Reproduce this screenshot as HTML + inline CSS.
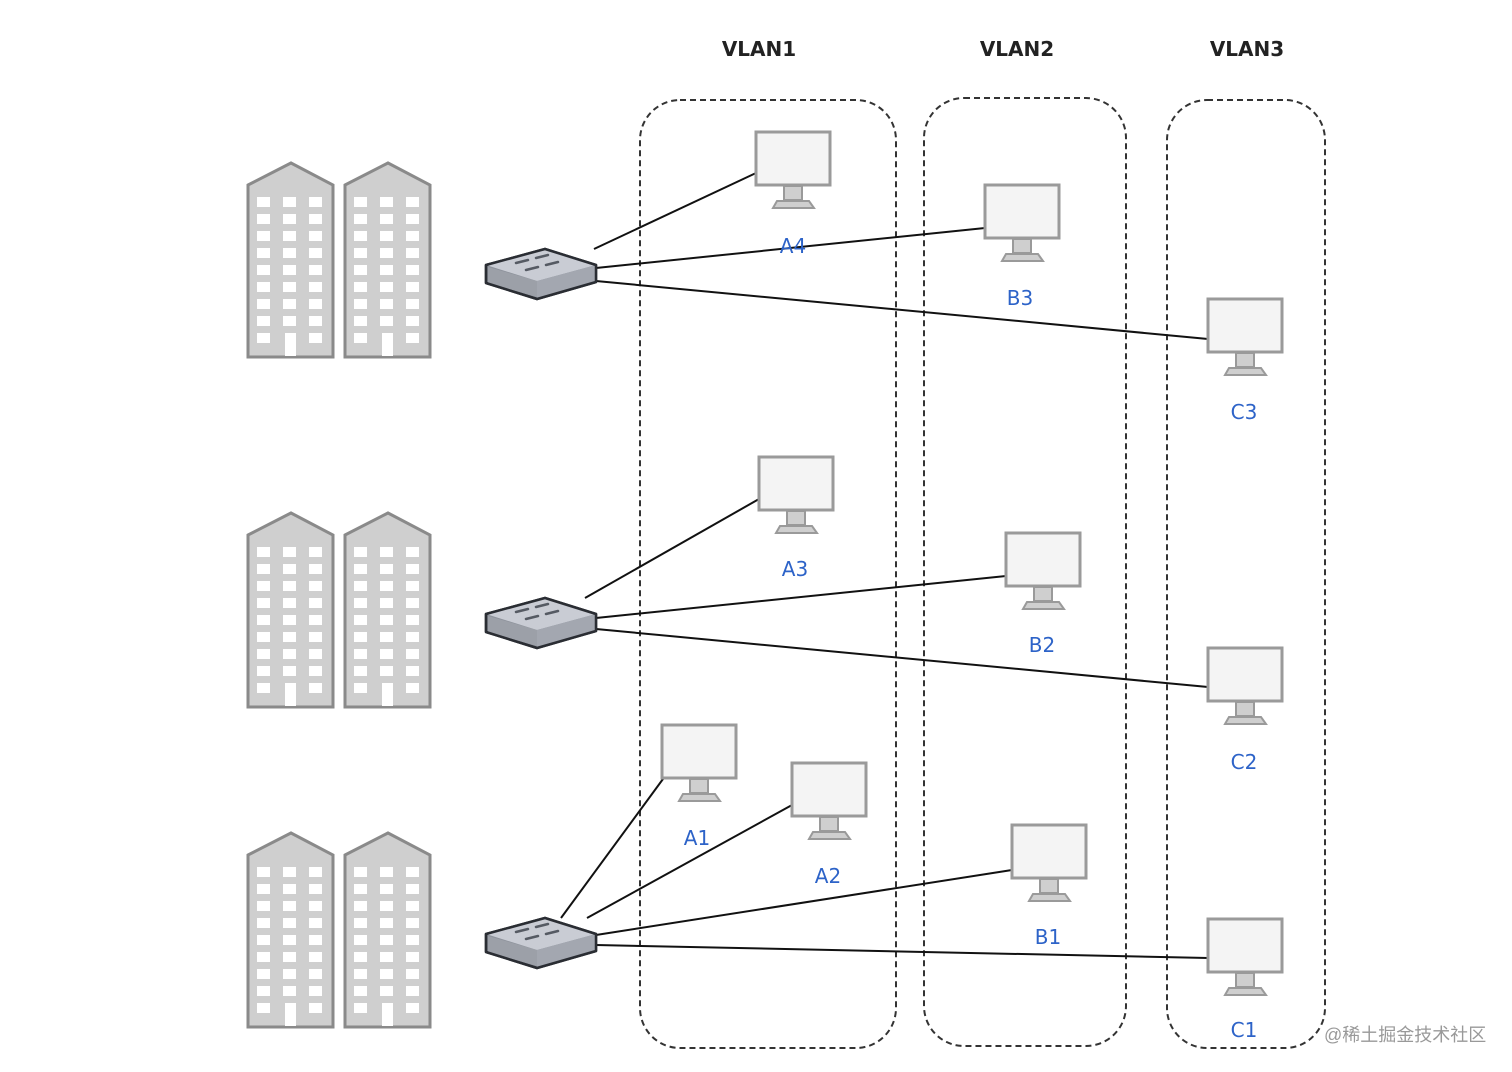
<!DOCTYPE html>
<html><head><meta charset="utf-8"><style>
html,body{margin:0;padding:0;background:#fff;}
svg{display:block;}
.t{font-family:"DejaVu Sans","Liberation Sans",sans-serif;font-size:20px;font-weight:bold;fill:#222;text-anchor:middle;}
.l{font-family:"DejaVu Sans","Liberation Sans",sans-serif;font-size:20px;fill:#2d63c8;text-anchor:middle;}
.w{font-family:"Liberation Sans","Noto Sans CJK SC",sans-serif;font-size:18px;fill:#999;}
</style></head><body>
<svg width="1512" height="1072" viewBox="0 0 1512 1072" xmlns="http://www.w3.org/2000/svg">
<defs>
<g id="bld">
  <path d="M0,22 L43,0 L85,22 L85,194 L0,194 Z" fill="#cfcfcf" stroke="#8a8a8a" stroke-width="3"/>
  <g fill="#fff">
    <rect x="9" y="34" width="13" height="10"/><rect x="35" y="34" width="13" height="10"/><rect x="61" y="34" width="13" height="10"/>
    <rect x="9" y="51" width="13" height="10"/><rect x="35" y="51" width="13" height="10"/><rect x="61" y="51" width="13" height="10"/>
    <rect x="9" y="68" width="13" height="10"/><rect x="35" y="68" width="13" height="10"/><rect x="61" y="68" width="13" height="10"/>
    <rect x="9" y="85" width="13" height="10"/><rect x="35" y="85" width="13" height="10"/><rect x="61" y="85" width="13" height="10"/>
    <rect x="9" y="102" width="13" height="10"/><rect x="35" y="102" width="13" height="10"/><rect x="61" y="102" width="13" height="10"/>
    <rect x="9" y="119" width="13" height="10"/><rect x="35" y="119" width="13" height="10"/><rect x="61" y="119" width="13" height="10"/>
    <rect x="9" y="136" width="13" height="10"/><rect x="35" y="136" width="13" height="10"/><rect x="61" y="136" width="13" height="10"/>
    <rect x="9" y="153" width="13" height="10"/><rect x="35" y="153" width="13" height="10"/><rect x="61" y="153" width="13" height="10"/>
    <rect x="9" y="170" width="13" height="10"/><rect x="37" y="170" width="11" height="23"/><rect x="61" y="170" width="13" height="10"/>
  </g>
</g>
<g id="bldpair"><use href="#bld"/><use href="#bld" x="97"/></g>
<g id="sw">
  <path d="M0,16 L59,0 L110,16 L110,33 L51,50 L0,34 Z" fill="#8e939c" stroke="#2a2d33" stroke-width="2.5" stroke-linejoin="round"/>
  <path d="M0,16 L59,0 L110,16 L51,32 Z" fill="#c9ccd4"/>
  <path d="M51,32 L110,16 L110,33 L51,50 Z" fill="#a3a7b0"/>
  <path d="M2,18 L51,32 L51,48 L2,34 Z" fill="#9ca0a8"/>
  <g stroke="#555a63" stroke-width="2.5" stroke-linecap="round">
    <line x1="30" y1="14" x2="42" y2="11"/><line x1="50" y1="9" x2="62" y2="6"/>
    <line x1="40" y1="21" x2="52" y2="18"/><line x1="60" y1="16" x2="72" y2="13"/>
  </g>
  <path d="M0,16 L59,0 L110,16 L110,33 L51,50 L0,34 Z" fill="none" stroke="#2a2d33" stroke-width="2.5" stroke-linejoin="round"/>
</g>
<g id="pc">
  <rect x="1" y="1" width="74" height="53" fill="#f4f4f4" stroke="#9a9a9a" stroke-width="3"/>
  <rect x="29" y="55" width="18" height="14" fill="#cfcfcf" stroke="#9a9a9a" stroke-width="2"/>
  <path d="M22,70 L54,70 L59,77 L18,77 Z" fill="#cfcfcf" stroke="#9a9a9a" stroke-width="2"/>
</g>
</defs>

<text class="t" x="759" y="56">VLAN1</text>
<text class="t" x="1017" y="56">VLAN2</text>
<text class="t" x="1247" y="56">VLAN3</text>

<g fill="none" stroke="#333" stroke-width="2" stroke-dasharray="6,4">
  <rect x="640" y="100" width="256" height="948" rx="40"/>
  <rect x="924" y="98" width="202" height="948" rx="40"/>
  <rect x="1167" y="100" width="158" height="948" rx="40"/>
</g>

<use href="#bldpair" x="248" y="163"/>
<use href="#bldpair" x="248" y="513"/>
<use href="#bldpair" x="248" y="833"/>

<g stroke="#111" stroke-width="2">
  <line x1="594" y1="249" x2="756" y2="173"/>
  <line x1="596" y1="268" x2="985" y2="228"/>
  <line x1="596" y1="281" x2="1208" y2="339"/>
  <line x1="585" y1="598" x2="759" y2="499"/>
  <line x1="596" y1="618" x2="1006" y2="576"/>
  <line x1="596" y1="629" x2="1208" y2="687"/>
  <line x1="561" y1="918" x2="663" y2="779"/>
  <line x1="587" y1="918" x2="792" y2="805"/>
  <line x1="596" y1="935" x2="1012" y2="870"/>
  <line x1="596" y1="945" x2="1208" y2="958"/>
</g>

<use href="#sw" x="486" y="249"/>
<use href="#sw" x="486" y="598"/>
<use href="#sw" x="486" y="918"/>

<use href="#pc" x="755" y="131"/>
<use href="#pc" x="984" y="184"/>
<use href="#pc" x="1207" y="298"/>
<use href="#pc" x="758" y="456"/>
<use href="#pc" x="1005" y="532"/>
<use href="#pc" x="1207" y="647"/>
<use href="#pc" x="661" y="724"/>
<use href="#pc" x="791" y="762"/>
<use href="#pc" x="1011" y="824"/>
<use href="#pc" x="1207" y="918"/>

<text class="l" x="793" y="253">A4</text>
<text class="l" x="1020" y="305">B3</text>
<text class="l" x="1244" y="419">C3</text>
<text class="l" x="795" y="576">A3</text>
<text class="l" x="1042" y="652">B2</text>
<text class="l" x="1244" y="769">C2</text>
<text class="l" x="697" y="845">A1</text>
<text class="l" x="828" y="883">A2</text>
<text class="l" x="1048" y="944">B1</text>
<text class="l" x="1244" y="1037">C1</text>

<text class="w" x="1324" y="1041">@稀土掘金技术社区</text>
</svg>
</body></html>
